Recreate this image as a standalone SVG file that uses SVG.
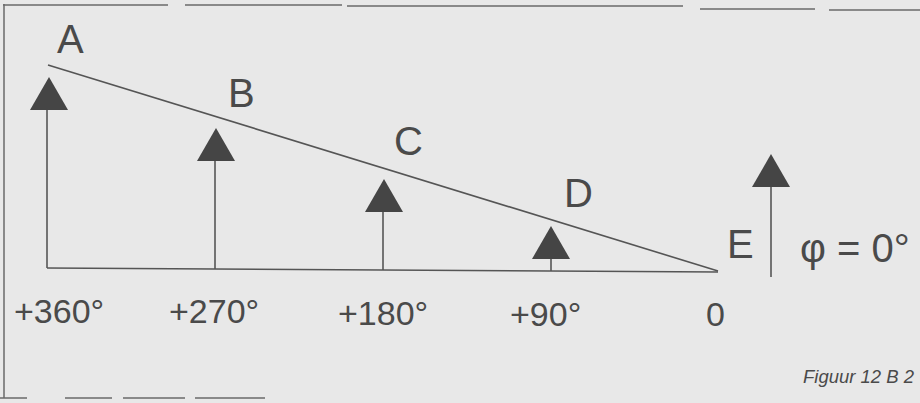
<svg xmlns="http://www.w3.org/2000/svg" width="920" height="403" viewBox="0 0 920 403">
<style>
.lbl{font-family:"Liberation Sans",Arial,sans-serif;fill:#4a4a4a;}
.big{font-size:40px;}
.deg{font-size:34px;}
.frame{stroke:#6a6a6a;stroke-width:1.5;fill:none;}
.ln{stroke:#555;stroke-width:1.6;fill:none;}
.tri{fill:#454545;}
</style>
<defs>
<path id="tri" d="M0,0 L19,33 L-19,33 Z"/>
</defs>
<rect x="0" y="0" width="920" height="403" fill="#e8e8e8"/>
<g id="frame">
<path class="frame" d="M3,5 H168 M185,5 H342 M347,6 H683 M700,9 H815 M829,10 H920 M4,4 V398 M0,398 H27 M65,398 H112 M123,398 H185 M195,398 H265"/>
</g>
<g id="connectors">
<path class="ln" d="M48,65 L718,271"/>
<path class="ln" d="M47,268 L718,272"/>
<path class="ln" d="M47,108 V268"/>
<path class="ln" d="M215,158 V269"/>
<path class="ln" d="M383,210 V270"/>
<path class="ln" d="M551,256 V271"/>
<path class="ln" d="M771,185 V277"/>
</g>
<g id="A"><use href="#tri" class="tri" x="49" y="77"/><text class="lbl big" x="57" y="53">A</text></g>
<g id="B"><use href="#tri" class="tri" x="216" y="128"/><text class="lbl big" x="228" y="107">B</text></g>
<g id="C"><use href="#tri" class="tri" x="384" y="179"/><text class="lbl big" x="394" y="155">C</text></g>
<g id="D"><use href="#tri" class="tri" x="551" y="226"/><text class="lbl big" x="564" y="207">D</text></g>
<g id="E"><use href="#tri" class="tri" x="771" y="154"/><text class="lbl big" x="727" y="258">E</text></g>
<g id="phi"><text class="lbl" x="800" y="262" font-size="40">φ = 0°</text></g>
<g id="scale">
<text class="lbl deg" x="14" y="323">+360°</text>
<text class="lbl deg" x="169" y="323">+270°</text>
<text class="lbl deg" x="338" y="325">+180°</text>
<text class="lbl deg" x="510" y="326">+90°</text>
<text class="lbl deg" x="706" y="326">0</text>
</g>
<g id="caption"><text class="lbl" x="803" y="383" font-size="18.5" font-style="italic">Figuur 12 B 2</text></g>
</svg>
